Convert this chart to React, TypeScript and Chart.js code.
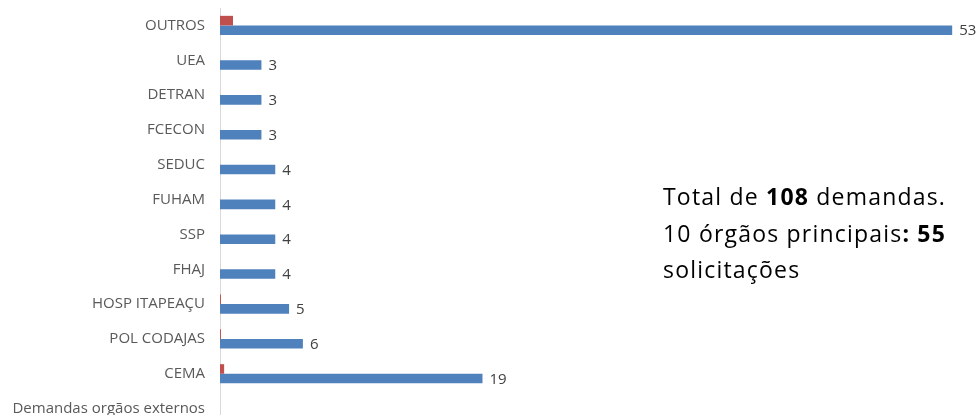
import React, { useEffect, useRef } from "react";
import { Chart, registerables } from "chart.js";

Chart.register(...registerables);

const categories = [
  "OUTROS",
  "UEA",
  "DETRAN",
  "FCECON",
  "SEDUC",
  "FUHAM",
  "SSP",
  "FHAJ",
  "HOSP ITAPEAÇU",
  "POL CODAJAS",
  "CEMA",
  "Demandas orgãos externos",
];
const demandas = [53, 3, 3, 3, 4, 4, 4, 4, 5, 6, 19, null];
const secundaria = [0.94, null, null, null, null, null, null, null, 0.07, 0.07, 0.3, null];

const valueLabels = {
  id: "valueLabels",
  afterDatasetsDraw(chart: any) {
    const ctx = chart.ctx;
    const meta = chart.getDatasetMeta(1);
    ctx.save();
    ctx.font = "15px 'Open Sans'";
    ctx.fillStyle = "#404040";
    ctx.textAlign = "left";
    ctx.textBaseline = "middle";
    meta.data.forEach((bar: any, i: number) => {
      const v = demandas[i];
      if (v === null || v === undefined) return;
      ctx.fillText(String(v), bar.x + 7, bar.y + 1);
    });
    ctx.restore();
  },
};

export default function App() {
  const ref = useRef<HTMLCanvasElement | null>(null);
  useEffect(() => {
    if (!ref.current) return;
    const chart = new Chart(ref.current, {
      type: "bar",
      data: {
        labels: categories,
        datasets: [
          {
            label: "Série 2",
            data: secundaria as any,
            backgroundColor: "#c0504d",
            categoryPercentage: 0.55,
            barPercentage: 1,
          },
          {
            label: "Demandas",
            data: demandas as any,
            backgroundColor: "#4f81bd",
            categoryPercentage: 0.55,
            barPercentage: 1,
          },
        ],
      },
      options: {
        indexAxis: "y",
        responsive: true,
        maintainAspectRatio: false,
        animation: false,
        layout: { padding: { top: 8, right: 14, bottom: 0, left: 0 } },
        plugins: {
          legend: { display: false },
          tooltip: { enabled: false },
        },
        scales: {
          x: { display: false, min: 0, max: 54 },
          y: {
            afterFit: (s: any) => {
              s.width = 220;
              s.paddingTop = 0;
              s.paddingBottom = 0;
            },
            grid: { display: false, drawTicks: false },
            border: { display: true, color: "#d9d9d9", width: 1 },
            ticks: {
              padding: 15,
              color: "#595959",
              font: { family: "'Open Sans'", size: 15 },
            },
          },
        },
      },
      plugins: [valueLabels],
    });
    return () => chart.destroy();
  }, []);

  return (
    <div
      style={{
        position: "fixed",
        top: 0,
        left: 0,
        width: 980,
        height: 415,
        overflow: "hidden",
        background: "#fff",
      }}
    >
      <div style={{ position: "relative", width: 980, height: 426 }}>
        <canvas ref={ref} />
      </div>
      <div
        style={{
          position: "absolute",
          left: 663,
          top: 178,
          fontFamily: "'Open Sans'",
          fontSize: 23,
          letterSpacing: "1.2px",
          lineHeight: "36.5px",
          color: "#000",
          whiteSpace: "nowrap",
        }}
      >
        <div>
          Total de <b>108</b> demandas.
        </div>
        <div>
          10 órgãos principais<b>: 55</b>
        </div>
        <div>solicitações</div>
      </div>
    </div>
  );
}
